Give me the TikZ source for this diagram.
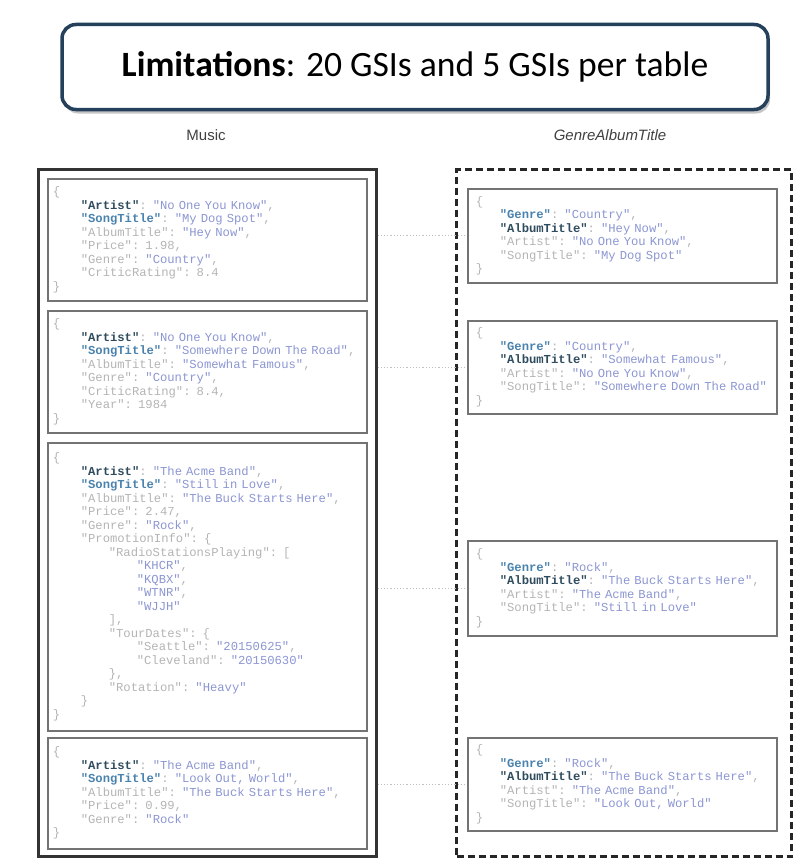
\documentclass[tikz,border=0pt]{standalone}
\usepackage{fontspec}
\setmainfont{Liberation Sans}
\newfontfamily\titlefont{Carlito}
\newfontfamily\codefont{Liberation Mono}
\usetikzlibrary{shadows}

\definecolor{titleblue}{HTML}{24405A}
\definecolor{keydark}{HTML}{2F4C5E}
\definecolor{keyblue}{HTML}{4A82AE}
\definecolor{codegray}{HTML}{B4B4B4}
\definecolor{codeval}{HTML}{8C96D2}
\definecolor{labelgray}{HTML}{404040}

% keys and values of the json items
\newcommand{\ka}[1]{\textcolor{keydark}{\textbf{"#1"}}}
\newcommand{\kb}[1]{\textcolor{keyblue}{\textbf{"#1"}}}
\newcommand{\kg}[1]{"#1"}
\newcommand{\sv}[1]{\textcolor{codeval}{"#1"}}
\newcommand{\indL}{\hspace*{28pt}}
\newcommand{\indR}{\hspace*{24pt}}

\begin{document}
\begin{tikzpicture}[x=1pt, y=-1pt,
  titlebox/.style={draw=titleblue, line width=3.5pt, rounded corners=14pt, fill=white,
    drop shadow={shadow xshift=2pt, shadow yshift=-4pt, opacity=0.45},
    minimum width=706pt, minimum height=85pt, font=\titlefont\fontsize{35.6}{40}\selectfont},
  tablelabel/.style={text=labelgray, font=\fontsize{15}{18}\selectfont},
  tablebox/.style={draw=black!80, line width=2.5pt, anchor=north west},
  indexbox/.style={draw=black!85, line width=3pt, dash pattern=on 7pt off 4pt, anchor=north west},
  doc/.style={draw=black!55, line width=1.6pt, anchor=north west, inner ysep=0pt, align=left,
    text=codegray, font=\codefont\fontsize{12.2}{13.5}\selectfont},
  musicdoc/.style={doc, inner xsep=5pt, text width=309pt},
  gsidoc/.style={doc, inner xsep=8pt, text width=293pt},
  link/.style={draw=black!25, line width=1.2pt, dotted}]
\useasboundingbox (0,0) rectangle (800,859);

\node[titlebox] (title) at (415,67) {\textbf{Limitations}: 20 GSIs and 5 GSIs per table};
\node[tablelabel] (musiclabel) at (206,135) {Music};
\node[tablelabel] (gsilabel) at (610,135) {\itshape GenreAlbumTitle};

\node[tablebox, minimum width=338pt, minimum height=687pt] (music) at (37,168) {};
\node[indexbox, minimum width=335pt, minimum height=687pt] (gsi) at (455,168) {};

% base table items
\node[musicdoc, minimum height=122pt] (m1) at (47,178) {\{\\
\indL\ka{Artist}: \sv{No One You Know},\\
\indL\kb{SongTitle}: \sv{My Dog Spot},\\
\indL\kg{AlbumTitle}: \sv{Hey Now},\\
\indL\kg{Price}: 1.98,\\
\indL\kg{Genre}: \sv{Country},\\
\indL\kg{CriticRating}: 8.4\\
\}};
\node[musicdoc, minimum height=122pt] (m2) at (47,310) {\{\\
\indL\ka{Artist}: \sv{No One You Know},\\
\indL\kb{SongTitle}: \sv{Somewhere Down The Road},\\
\indL\kg{AlbumTitle}: \sv{Somewhat Famous},\\
\indL\kg{Genre}: \sv{Country},\\
\indL\kg{CriticRating}: 8.4,\\
\indL\kg{Year}: 1984\\
\}};
\node[musicdoc, minimum height=288pt] (m3) at (47,442) {\{\\
\indL\ka{Artist}: \sv{The Acme Band},\\
\indL\kb{SongTitle}: \sv{Still in Love},\\
\indL\kg{AlbumTitle}: \sv{The Buck Starts Here},\\
\indL\kg{Price}: 2.47,\\
\indL\kg{Genre}: \sv{Rock},\\
\indL\kg{PromotionInfo}: \{\\
\indL\indL\kg{RadioStationsPlaying}: [\\
\indL\indL\indL\sv{KHCR},\\
\indL\indL\indL\sv{KQBX},\\
\indL\indL\indL\sv{WTNR},\\
\indL\indL\indL\sv{WJJH}\\
\indL\indL],\\
\indL\indL\kg{TourDates}: \{\\
\indL\indL\indL\kg{Seattle}: \sv{20150625},\\
\indL\indL\indL\kg{Cleveland}: \sv{20150630}\\
\indL\indL\},\\
\indL\indL\kg{Rotation}: \sv{Heavy}\\
\indL\}\\
\}};
\node[musicdoc, minimum height=111pt] (m4) at (47,737) {\{\\
\indL\ka{Artist}: \sv{The Acme Band},\\
\indL\kb{SongTitle}: \sv{Look Out, World},\\
\indL\kg{AlbumTitle}: \sv{The Buck Starts Here},\\
\indL\kg{Price}: 0.99,\\
\indL\kg{Genre}: \sv{Rock}\\
\}};

% index items
\node[gsidoc, minimum height=94pt] (g1) at (467,188) {\{\\
\indR\kb{Genre}: \sv{Country},\\
\indR\ka{AlbumTitle}: \sv{Hey Now},\\
\indR\kg{Artist}: \sv{No One You Know},\\
\indR\kg{SongTitle}: \sv{My Dog Spot}\\
\}};
\node[gsidoc, minimum height=93pt] (g2) at (467,320) {\{\\
\indR\kb{Genre}: \sv{Country},\\
\indR\ka{AlbumTitle}: \sv{Somewhat Famous},\\
\indR\kg{Artist}: \sv{No One You Know},\\
\indR\kg{SongTitle}: \sv{Somewhere~Down~The~Road}\\
\}};
\node[gsidoc, minimum height=95pt] (g3) at (467,540) {\{\\
\indR\kb{Genre}: \sv{Rock},\\
\indR\ka{AlbumTitle}: \sv{The Buck Starts Here},\\
\indR\kg{Artist}: \sv{The Acme Band},\\
\indR\kg{SongTitle}: \sv{Still in Love}\\
\}};
\node[gsidoc, minimum height=93pt] (g4) at (467,737) {\{\\
\indR\kb{Genre}: \sv{Rock},\\
\indR\ka{AlbumTitle}: \sv{The Buck Starts Here},\\
\indR\kg{Artist}: \sv{The Acme Band},\\
\indR\kg{SongTitle}: \sv{Look Out, World}\\
\}};

\foreach \g in {g1,g2,g3,g4}
  \draw[link] (music.east |- \g.west) -- (\g.west);
\end{tikzpicture}
\end{document}
